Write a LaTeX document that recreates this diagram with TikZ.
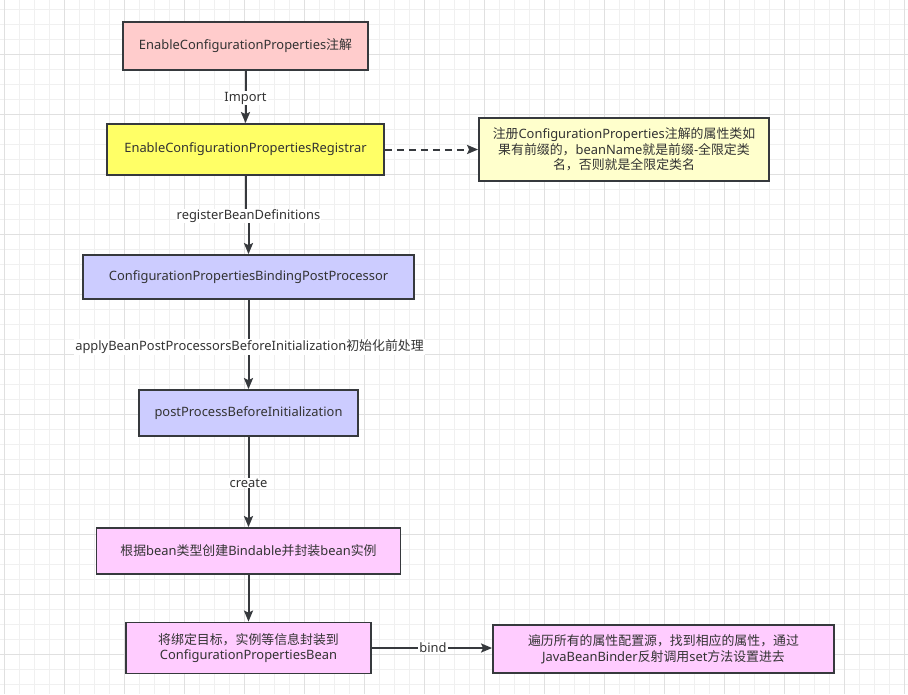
\documentclass[tikz,border=0pt]{standalone}
\usepackage{fontspec}
\setmainfont{Noto Sans}
\newfontfamily\zhfont{Noto Sans CJK SC}
\newcommand\zh[1]{{\zhfont #1}}
\usetikzlibrary{arrows.meta,calc}

\definecolor{edge}{HTML}{36393D}
\definecolor{ink}{HTML}{333333}
\definecolor{redbox}{HTML}{FFCCCC}
\definecolor{yelbox}{HTML}{FFFF66}
\definecolor{notebox}{HTML}{FFFFCC}
\definecolor{bluebox}{HTML}{CCCCFF}
\definecolor{pinkbox}{HTML}{FFCCFF}

\begin{document}
\begin{tikzpicture}[x=1pt,y=-1pt,
  box/.style={draw=edge,line width=1.8pt,text=ink,align=center,inner sep=0pt,
    font=\fontsize{12.9}{15.6}\selectfont},
  flow/.style={draw=edge,line width=2pt,-{Stealth[length=11pt,width=9pt,inset=2pt]}},
  lbl/.style={fill=white,text=ink,inner sep=1pt,font=\fontsize{12.9}{15}\selectfont},
  minor/.style={draw=black!6,line width=1pt},
  major/.style={draw=black!12,line width=1pt}]

\useasboundingbox[fill=white] (0,0) rectangle (908,694);

% grid
\foreach \x in {4,19,...,904}
 \draw[minor] (\x,0) -- (\x,694);
\foreach \y in {9,24,...,689}
 \draw[minor] (0,\y) -- (908,\y);
\foreach \x in {4,64,...,904}
 \draw[major] (\x,0) -- (\x,694);
\foreach \y in {54,114,...,654}
 \draw[major] (0,\y) -- (908,\y);

% boxes
\node[box,fill=redbox,minimum width=245pt,minimum height=48pt] (anno) at (245.5,46)
 {EnableConfigurationProperties\zh{注解}};
\node[box,fill=yelbox,minimum width=277pt,minimum height=51pt] (reg) at (245.5,149.5)
 {EnableConfigurationPropertiesRegistrar};
\node[box,fill=notebox,minimum width=290pt,minimum height=63pt] (note) at (624,149.5)
 {\zh{注册}ConfigurationProperties\zh{注解的属性类如}\\\zh{果有前缀的，}beanName\zh{就是前缀}-\zh{全限定类}\\\zh{名，否则就是全限定类名}};
\node[box,fill=bluebox,minimum width=331pt,minimum height=44pt] (bpp) at (248.5,277)
 {ConfigurationPropertiesBindingPostProcessor};
\node[box,fill=bluebox,minimum width=219pt,minimum height=46pt] (pre) at (248.5,413)
 {postProcessBeforeInitialization};
\node[box,fill=pinkbox,minimum width=304pt,minimum height=46pt] (wrap) at (248.5,551)
 {\zh{根据}bean\zh{类型创建}Bindable\zh{并封装}bean\zh{实例}};
\node[box,fill=pinkbox,minimum width=245pt,minimum height=51pt] (cpb) at (248.5,648)
 {\zh{将绑定目标，实例等信息封装到}\\ConfigurationPropertiesBean};
\node[box,fill=pinkbox,minimum width=341pt,minimum height=48pt] (setter) at (663.5,649)
 {\zh{遍历所有的属性配置源，找到相应的属性，通过}\\JavaBeanBinder\zh{反射调用}set\zh{方法设置进去}};

% connectors
\draw[flow] (anno) -- (reg);
\draw[flow,dashed,dash pattern=on 7pt off 5pt] (reg) -- (note);
\draw[flow] (reg.south) -- ++(0,41) -| (bpp.north);
\draw[flow] (bpp) -- (pre);
\draw[flow] (pre) -- (wrap);
\draw[flow] (wrap) -- (cpb);
\draw[flow] (cpb) -- (cpb-|setter.west);

% labels
\node[lbl] (import) at (245.5,98) {Import};
\node[lbl] (regdef) at (248.5,216) {registerBeanDefinitions};
\node[lbl] (apply) at (249.5,347) {applyBeanPostProcessorsBeforeInitialization\zh{初始化前处理}};
\node[lbl] (create) at (248.5,483) {create};
\node[lbl] (bind) at (433,648) {bind};

\end{tikzpicture}
\end{document}
